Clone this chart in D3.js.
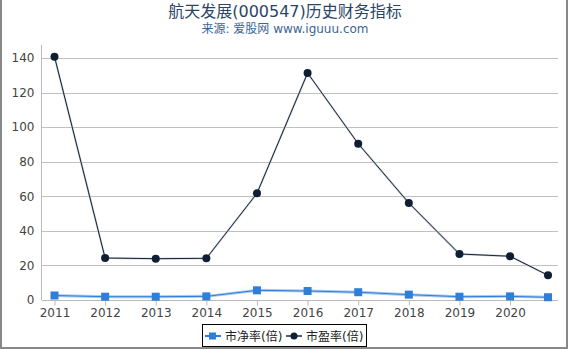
<!DOCTYPE html>
<html lang="zh">
<head>
<meta charset="utf-8">
<title>航天发展(000547)历史财务指标</title>
<script src="https://cdn.jsdelivr.net/npm/d3@7"></script>
<style>
body { margin: 0; background: #fff; }
svg { display: block; font-family: "DejaVu Sans", "Noto Sans CJK SC", sans-serif; }
</style>
</head>
<body>
<script>
// data
var years = [2011, 2012, 2013, 2014, 2015, 2016, 2017, 2018, 2019, 2020, 2020.75];
var tickYears = [2011, 2012, 2013, 2014, 2015, 2016, 2017, 2018, 2019, 2020];
var pb = [2.6, 1.9, 1.9, 2.1, 5.6, 5.2, 4.5, 3.1, 1.9, 2.1, 1.6];     // 市净率(倍)
var pe = [140.7, 24.3, 23.9, 24.1, 61.7, 131.3, 90.4, 56.1, 26.6, 25.3, 14.3]; // 市盈率(倍)
var yTicks = [0, 20, 40, 60, 80, 100, 120, 140];

var w = 570, h = 350;
// plot box (note: "top" is taken by window.top, so use other names)
var plotL = 42, plotR = 558, plotT = 45, plotB = 300;

var svg = d3.select("body").append("svg")
    .attr("width", w)
    .attr("height", h);

var x = d3.scaleLinear().domain([2010.753, 2020.947]).range([plotL, plotR]);
var y = d3.scaleLinear().domain([0, 147.5]).range([plotB, plotT]);

// title
svg.append("text").attr("x", 285).attr("y", 17)
    .attr("text-anchor", "middle").attr("font-size", 16).attr("fill", "#2b4566")
    .text("航天发展(000547)历史财务指标");
svg.append("text").attr("x", 285).attr("y", 33)
    .attr("text-anchor", "middle").attr("font-size", 12).attr("fill", "#3a6595")
    .text("来源: 爱股网 www.iguuu.com");

// grid
svg.selectAll("line.grid").data(yTicks.slice(1)).enter().append("line")
    .attr("x1", plotL).attr("x2", plotR)
    .attr("y1", function(d) { return Math.round(y(d)) + 0.5; })
    .attr("y2", function(d) { return Math.round(y(d)) + 0.5; })
    .attr("stroke", "#c0c0c0");

// y axis
var yAxis = svg.append("g").attr("transform", "translate(" + (plotL - 0.5) + ",0)")
    .call(d3.axisLeft(y).tickValues(yTicks).tickSize(0).tickPadding(7));
yAxis.select(".domain").attr("stroke", "#bbb").attr("d", "M0," + plotT + "V" + plotB);
yAxis.selectAll("text").attr("font-size", 12).attr("fill", "#444")
    .attr("font-family", "DejaVu Sans");

// x axis
var xAxis = svg.append("g").attr("transform", "translate(0," + (plotB + 0.5) + ")")
    .call(d3.axisBottom(x).tickValues(tickYears).tickFormat(d3.format("d")).tickSize(5).tickPadding(3));
xAxis.select(".domain").attr("stroke", "#bbb").attr("d", "M" + plotL + ",0H" + plotR);
xAxis.selectAll("line").attr("stroke", "#bbb");
xAxis.selectAll("text").attr("font-size", 12).attr("fill", "#444")
    .attr("font-family", "DejaVu Sans");

var line = d3.line().x(function(d, i) { return x(years[i]); }).y(function(d) { return y(d); });

// 市净率 line with soft halo
svg.append("path").datum(pb).attr("d", line).attr("fill", "none")
    .attr("stroke", "#a9c9ee").attr("stroke-width", 3);
svg.append("path").datum(pb).attr("d", line).attr("fill", "none")
    .attr("stroke", "#2f7ed8").attr("stroke-width", 1);
svg.selectAll("rect.pb").data(pb).enter().append("rect")
    .attr("x", function(d, i) { return x(years[i]) - 4; })
    .attr("y", function(d) { return y(d) - 4; })
    .attr("width", 8).attr("height", 8)
    .attr("fill", "#2f7ed8");

// 市盈率 line
svg.append("path").datum(pe).attr("d", line).attr("fill", "none")
    .attr("stroke", "#c4cad2").attr("stroke-width", 2);
svg.append("path").datum(pe).attr("d", line).attr("fill", "none")
    .attr("stroke", "#16263b").attr("stroke-width", 1);
svg.selectAll("circle.pe").data(pe).enter().append("circle")
    .attr("cx", function(d, i) { return x(years[i]); })
    .attr("cy", function(d) { return y(d); })
    .attr("r", 4)
    .attr("fill", "#0f1e33");

// legend
var lg = svg.append("g");
lg.append("rect").attr("x", 202.5).attr("y", 324.5).attr("width", 164).attr("height", 22)
    .attr("fill", "#fff").attr("stroke", "#000");
lg.append("line").attr("x1", 205).attr("x2", 221).attr("y1", 336).attr("y2", 336)
    .attr("stroke", "#2f7ed8").attr("stroke-width", 2);
lg.append("rect").attr("x", 209).attr("y", 332.5).attr("width", 7).attr("height", 7).attr("fill", "#2f7ed8");
lg.append("text").attr("x", 225).attr("y", 340.5).attr("font-size", 12).attr("fill", "#222").text("市净率(倍)");
lg.append("line").attr("x1", 286).attr("x2", 302).attr("y1", 336).attr("y2", 336)
    .attr("stroke", "#1a2b42").attr("stroke-width", 1.5);
lg.append("circle").attr("cx", 294).attr("cy", 336).attr("r", 3.5).attr("fill", "#0f1e33");
lg.append("text").attr("x", 306).attr("y", 340.5).attr("font-size", 12).attr("fill", "#222").text("市盈率(倍)");

// outer frame (left, right, bottom)
svg.append("path").attr("d", "M1,0V348H567V0").attr("fill", "none")
    .attr("stroke", "#888").attr("stroke-width", 2);
</script>
</body>
</html>
